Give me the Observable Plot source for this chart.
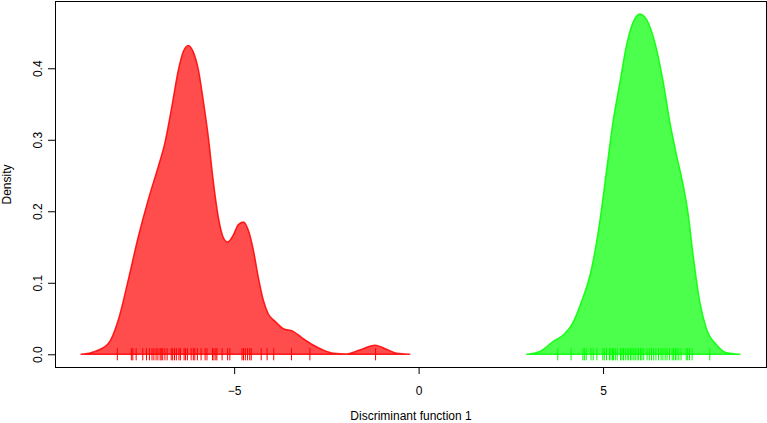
<!DOCTYPE html>
<html>
<head>
<meta charset="utf-8">
<script src="https://cdn.jsdelivr.net/npm/d3@7"></script>
<script src="https://cdn.jsdelivr.net/npm/@observablehq/plot@0.6"></script>
<style>
  html, body { margin: 0; padding: 0; background: #fff; }
  #chart svg { display: block; }
</style>
</head>
<body>
<div id="chart"></div>
<script>
// Density curve of group 1 (red)
const redX = [-9.15,-8.77,-8.41,-8.14,-7.87,-7.60,-7.33,-7.06,-6.88,-6.69,-6.51,-6.38,-6.24,-6.11,-5.97,-5.84,-5.70,-5.57,-5.43,-5.30,-5.18,-5.02,-4.89,-4.75,-4.62,-4.48,-4.35,-4.21,-4.08,-3.89,-3.67,-3.40,-3.13,-2.86,-2.59,-2.31,-1.95,-1.59,-1.18,-0.87,-0.60,-0.24];
const redY = [0,0.004,0.015,0.048,0.104,0.164,0.216,0.262,0.295,0.346,0.398,0.423,0.432,0.423,0.398,0.356,0.304,0.244,0.192,0.164,0.157,0.167,0.181,0.185,0.174,0.146,0.109,0.076,0.057,0.046,0.036,0.032,0.022,0.013,0.006,0.0015,0.0005,0.006,0.0125,0.007,0.0015,0];
// Density curve of group 2 (green)
const greenX = [2.93,3.29,3.65,3.92,4.15,4.42,4.69,4.91,5.09,5.27,5.46,5.64,5.82,6.00,6.18,6.40,6.63,6.81,6.99,7.17,7.31,7.44,7.62,7.80,8.08,8.35,8.71];
const greenY = [0,0.004,0.018,0.027,0.041,0.074,0.120,0.185,0.255,0.325,0.381,0.433,0.465,0.476,0.468,0.437,0.381,0.325,0.279,0.237,0.195,0.139,0.074,0.036,0.013,0.002,0];
// Rug (observed scores)
const redRug = [-8.18,-7.80,-7.76,-7.67,-7.49,-7.39,-7.31,-7.24,-7.19,-7.13,-7.08,-7.02,-6.99,-6.95,-6.89,-6.83,-6.72,-6.68,-6.63,-6.58,-6.51,-6.47,-6.37,-6.33,-6.28,-6.18,-6.12,-6.08,-6.01,-5.91,-5.80,-5.75,-5.60,-5.56,-5.51,-5.48,-5.34,-5.19,-5.13,-4.80,-4.76,-4.71,-4.65,-4.59,-4.55,-4.28,-4.12,-3.94,-3.46,-2.96,-1.18];
const greenRug = [3.76,4.12,4.44,4.48,4.53,4.66,4.72,4.82,4.98,5.02,5.08,5.16,5.20,5.24,5.27,5.32,5.37,5.46,5.50,5.54,5.59,5.64,5.68,5.73,5.77,5.82,5.86,5.91,5.95,6.00,6.04,6.09,6.18,6.24,6.30,6.36,6.42,6.49,6.56,6.61,6.67,6.72,6.79,6.86,6.90,6.95,6.99,7.04,7.10,7.24,7.28,7.33,7.40,7.88];
// Axis ticks and labels
const xTicks = [-5, 0, 5];
const yTicks = [0, 0.1, 0.2, 0.3, 0.4];
const xLabel = "Discriminant function 1";
const yLabel = "Density";

const red = redX.map((x, i) => ({x, y: redY[i]}));
const green = greenX.map((x, i) => ({x, y: greenY[i]}));

const font = "'Liberation Sans', Arial, Helvetica, sans-serif";

const chart = Plot.plot({
  width: 767,
  height: 423,
  marginLeft: 55,
  marginRight: 1,
  marginTop: 1,
  marginBottom: 56,
  style: {fontFamily: font, fontSize: "12px", color: "black", background: "white"},
  x: {domain: [-9.856, 9.417], axis: null},
  y: {domain: [-0.0178, 0.4941], axis: null},
  marks: [
    Plot.areaY(red, {x: "x", y: "y", curve: "monotone-x", fill: "#ff0000", fillOpacity: 0.7, stroke: "#ff0000", strokeOpacity: 0.85, strokeWidth: 1.5}),
    Plot.areaY(green, {x: "x", y: "y", curve: "monotone-x", fill: "#00ff00", fillOpacity: 0.7, stroke: "#00ff00", strokeOpacity: 0.85, strokeWidth: 1.5}),
    Plot.ruleX(redRug, {x: d => d, y1: -0.0085, y2: 0.0085, stroke: "#ff0000", strokeWidth: 1}),
    Plot.ruleX(greenRug, {x: d => d, y1: -0.0085, y2: 0.0085, stroke: "#00ff00", strokeWidth: 1}),
    Plot.frame({stroke: "black", strokeWidth: 1}),
    Plot.axisX(xTicks, {tickSize: 7, tickPadding: 12, fontSize: 12, label: null, stroke: "black"}),
    Plot.axisY(yTicks, {tickSize: 7, tickPadding: 7, tickRotate: -90, tickFormat: d3.format(".1f"), fontSize: 12, label: null, stroke: "black"}),
    Plot.text([xLabel], {frameAnchor: "bottom", textAnchor: "middle", lineAnchor: "middle", dy: 49, fontSize: 12, fill: "black"}),
    Plot.text([yLabel], {frameAnchor: "left", textAnchor: "middle", lineAnchor: "middle", dx: -48, rotate: -90, fontSize: 12, fill: "black"})
  ]
});
document.getElementById("chart").appendChild(chart);
</script>
</body>
</html>
